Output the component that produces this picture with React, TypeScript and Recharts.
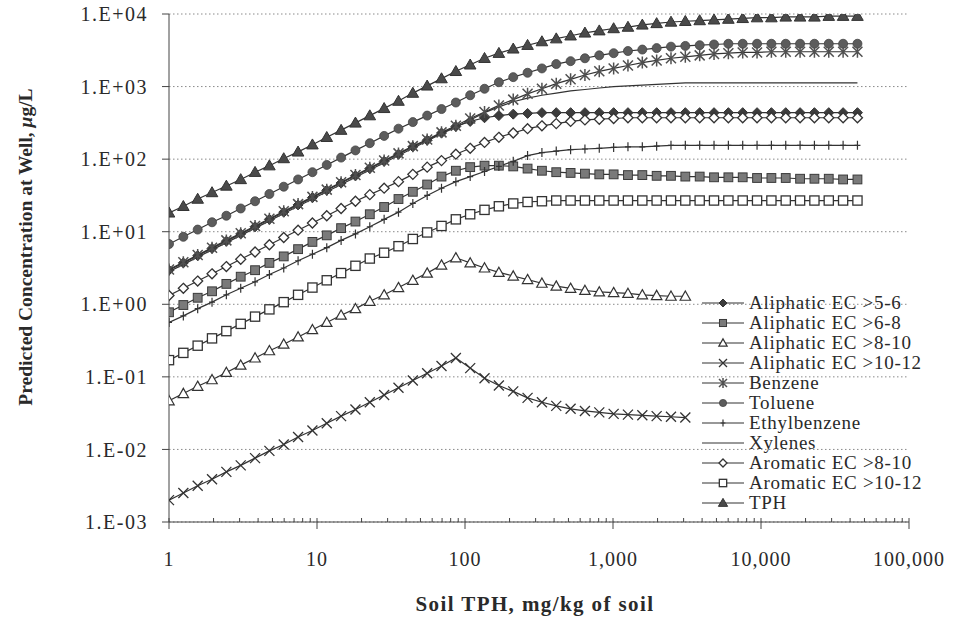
import React from 'react';
import { LineChart, Line, XAxis, YAxis, CartesianGrid, Legend } from 'recharts';

const SERIF = '"Liberation Serif", "Times New Roman", serif';
const INK = '#333';

// soil TPH (mg/kg) at each model step
const SOIL_TPH = [
  1, 1.25, 1.5625, 1.953, 2.441, 3.052, 3.815, 4.768, 5.96, 7.451,
  9.313, 11.64, 14.55, 18.19, 22.74, 28.42, 35.53, 44.41, 55.51, 69.39,
  86.74, 108.4, 135.5, 169.4, 211.8, 264.7, 330.9, 413.6, 517, 646.2,
  807.8, 1010, 1262, 1578, 1972, 2465, 3081, 3852, 4815, 6019,
  7523, 9404, 11755, 14694, 18367, 22959, 28699, 35873, 44842,
];

const ALI_5_6 = [
  2.95, 3.72, 4.68, 5.89, 7.41, 9.33, 11.7, 14.8, 18.6, 23.4,
  29.5, 37.2, 46.8, 58.9, 74.1, 93.3, 117, 148, 182, 229,
  282, 331, 372, 398, 417, 427, 437, 437, 437, 437,
  437, 437, 437, 437, 437, 437, 437, 437, 437, 437,
  437, 437, 437, 437, 437, 437, 437, 437, 437,
];
const ALI_6_8 = [
  0.776, 0.977, 1.23, 1.51, 1.91, 2.4, 2.95, 3.72, 4.57, 5.75,
  7.24, 8.91, 11.2, 13.8, 17.4, 21.9, 28.2, 35.5, 44.7, 57.5,
  69.2, 77.6, 81.3, 81.3, 79.4, 74.1, 69.2, 66.1, 64.6, 63.1,
  61.7, 61.7, 60.3, 60.3, 58.9, 58.9, 57.5, 57.5, 56.2, 56.2,
  56.2, 55.0, 55.0, 55.0, 53.7, 53.7, 53.7, 52.5, 52.5,
];
const ALI_8_10 = [
  0.0468, 0.0589, 0.0741, 0.0912, 0.115, 0.145, 0.182, 0.229, 0.282, 0.355,
  0.447, 0.562, 0.708, 0.871, 1.1, 1.35, 1.7, 2.14, 2.69, 3.47,
  4.37, 3.72, 3.16, 2.75, 2.45, 2.19, 1.95, 1.78, 1.66, 1.55,
  1.48, 1.45, 1.41, 1.35, 1.32, 1.29, 1.29,
];
const ALI_10_12 = [
  0.002, 0.00251, 0.00316, 0.00389, 0.0049, 0.00603, 0.00759, 0.00955, 0.0117, 0.0148,
  0.0182, 0.0229, 0.0288, 0.0355, 0.0447, 0.0562, 0.0708, 0.0891, 0.112, 0.141,
  0.182, 0.132, 0.0955, 0.0759, 0.0631, 0.0513, 0.0447, 0.0398, 0.0363, 0.0339,
  0.0324, 0.0309, 0.0302, 0.0295, 0.0288, 0.0282, 0.0275,
];
const BENZENE = [
  3.02, 3.8, 4.79, 6.03, 7.59, 9.55, 12.0, 15.1, 19.1, 24.0,
  30.2, 38.0, 47.9, 60.3, 75.9, 95.5, 120, 151, 186, 234,
  288, 363, 447, 550, 661, 794, 933, 1096, 1259, 1445,
  1622, 1778, 1950, 2138, 2291, 2455, 2570, 2692, 2818, 2884,
  2951, 2951, 3020, 3020, 3020, 3020, 3020, 3020, 3020,
];
const TOLUENE = [
  6.76, 8.51, 10.7, 13.5, 16.6, 20.9, 26.3, 33.1, 41.7, 52.5,
  66.1, 83.2, 105, 132, 166, 209, 263, 324, 398, 490,
  603, 759, 933, 1148, 1349, 1549, 1778, 2042, 2239, 2455,
  2692, 2884, 3090, 3236, 3388, 3548, 3631, 3715, 3802, 3890,
  3890, 3890, 3890, 3890, 3890, 3890, 3890, 3890, 3890,
];
const ETHYLBENZENE = [
  0.562, 0.692, 0.871, 1.07, 1.35, 1.66, 2.04, 2.57, 3.16, 3.98,
  4.9, 6.03, 7.59, 9.33, 11.7, 14.8, 18.6, 24.5, 31.6, 39.8,
  49.0, 57.5, 67.6, 79.4, 93.3, 112, 123, 129, 135, 138,
  141, 145, 148, 148, 151, 155, 155, 155, 155, 155,
  155, 155, 155, 155, 155, 155, 155, 155, 155,
];
const XYLENES = [
  2.82, 3.55, 4.47, 5.62, 7.08, 8.91, 11.2, 14.1, 17.8, 22.4,
  28.2, 35.5, 44.7, 56.2, 70.8, 89.1, 112, 141, 178, 224,
  275, 347, 437, 525, 617, 692, 759, 813, 871, 912,
  955, 1000, 1023, 1047, 1072, 1096, 1122, 1122, 1122, 1122,
  1122, 1122, 1122, 1122, 1122, 1122, 1122, 1122, 1122,
];
const AROM_8_10 = [
  1.32, 1.66, 2.09, 2.63, 3.31, 4.17, 5.25, 6.61, 8.32, 10.5,
  13.2, 16.6, 20.9, 26.3, 32.4, 39.8, 49.0, 61.7, 77.6, 95.5,
  117, 141, 170, 200, 229, 263, 288, 309, 331, 347,
  355, 363, 372, 372, 372, 372, 372, 372, 372, 372,
  372, 372, 372, 372, 372, 372, 372, 372, 372,
];
const AROM_10_12 = [
  0.17, 0.214, 0.269, 0.339, 0.427, 0.537, 0.676, 0.851, 1.07, 1.35,
  1.7, 2.14, 2.69, 3.39, 4.27, 5.13, 6.31, 7.94, 9.77, 12.0,
  14.8, 17.4, 20.0, 22.4, 24.5, 25.7, 26.3, 26.9, 26.9, 26.9,
  26.9, 26.9, 26.9, 26.9, 26.9, 26.9, 26.9, 26.9, 26.9, 26.9,
  26.9, 26.9, 26.9, 26.9, 26.9, 26.9, 26.9, 26.9, 26.9,
];
const TPH = [
  18.2, 22.4, 28.2, 34.7, 42.7, 52.5, 66.1, 81.3, 102, 126,
  158, 200, 251, 316, 398, 501, 631, 813, 1023, 1288,
  1622, 1995, 2455, 2884, 3311, 3715, 4169, 4571, 5012, 5495,
  5888, 6310, 6607, 7079, 7413, 7762, 7943, 8128, 8318, 8511,
  8710, 8913, 8913, 9120, 9120, 9120, 9333, 9333, 9333,
];

const X_MAJOR = [1, 10, 100, 1000, 10000, 100000];
const X_MINOR = [
  2, 3, 4, 5, 6, 7, 8, 9,
  20, 30, 40, 50, 60, 70, 80, 90,
  200, 300, 400, 500, 600, 700, 800, 900,
  2000, 3000, 4000, 5000, 6000, 7000, 8000, 9000,
  20000, 30000, 40000, 50000, 60000, 70000, 80000, 90000,
];
const Y_TICKS = [0.001, 0.01, 0.1, 1, 10, 100, 1000, 10000];

type MarkerKind =
  | 'diamondFilled' | 'squareGray' | 'triangleOpen' | 'cross' | 'asterisk'
  | 'circle' | 'plus' | 'none' | 'diamondOpen' | 'squareOpen' | 'triangleFilled';

const SERIES: { key: string; name: string; values: number[]; marker: MarkerKind }[] = [
  { key: 'ali56', name: 'Aliphatic EC >5-6', values: ALI_5_6, marker: 'diamondFilled' },
  { key: 'ali68', name: 'Aliphatic EC >6-8', values: ALI_6_8, marker: 'squareGray' },
  { key: 'ali810', name: 'Aliphatic EC >8-10', values: ALI_8_10, marker: 'triangleOpen' },
  { key: 'ali1012', name: 'Aliphatic EC >10-12', values: ALI_10_12, marker: 'cross' },
  { key: 'benzene', name: 'Benzene', values: BENZENE, marker: 'asterisk' },
  { key: 'toluene', name: 'Toluene', values: TOLUENE, marker: 'circle' },
  { key: 'ethyl', name: 'Ethylbenzene', values: ETHYLBENZENE, marker: 'plus' },
  { key: 'xylenes', name: 'Xylenes', values: XYLENES, marker: 'none' },
  { key: 'aro810', name: 'Aromatic EC >8-10', values: AROM_8_10, marker: 'diamondOpen' },
  { key: 'aro1012', name: 'Aromatic EC >10-12', values: AROM_10_12, marker: 'squareOpen' },
  { key: 'tph', name: 'TPH', values: TPH, marker: 'triangleFilled' },
];

const chartData = SOIL_TPH.map((x, i) => {
  const row: Record<string, number | undefined> = { x };
  SERIES.forEach((s) => {
    row[s.key] = s.values[i];
  });
  return row;
});

function Marker({ kind, cx, cy, s = 1 }: { kind: MarkerKind; cx: number; cy: number; s?: number }) {
  const r = 5 * s;
  switch (kind) {
    case 'diamondFilled':
      return <path d={`M${cx},${cy - r}L${cx + r},${cy}L${cx},${cy + r}L${cx - r},${cy}Z`} fill="#3c3c3c" stroke={INK} strokeWidth={1} />;
    case 'diamondOpen':
      return <path d={`M${cx},${cy - r}L${cx + r},${cy}L${cx},${cy + r}L${cx - r},${cy}Z`} fill="#fff" stroke={INK} strokeWidth={1.3} />;
    case 'squareGray':
      return <rect x={cx - 4.4 * s} y={cy - 4.4 * s} width={8.8 * s} height={8.8 * s} fill="#7a7a7a" stroke="#3a3a3a" strokeWidth={1} />;
    case 'squareOpen':
      return <rect x={cx - 4.6 * s} y={cy - 4.6 * s} width={9.2 * s} height={9.2 * s} fill="#fff" stroke={INK} strokeWidth={1.3} />;
    case 'triangleOpen':
      return <path d={`M${cx},${cy - 5.2 * s}L${cx + 5.2 * s},${cy + 4 * s}L${cx - 5.2 * s},${cy + 4 * s}Z`} fill="#fff" stroke={INK} strokeWidth={1.2} />;
    case 'triangleFilled':
      return <path d={`M${cx},${cy - 5.8 * s}L${cx + 5.8 * s},${cy + 4.2 * s}L${cx - 5.8 * s},${cy + 4.2 * s}Z`} fill="#4a4a4a" stroke={INK} strokeWidth={1} />;
    case 'circle':
      return <circle cx={cx} cy={cy} r={4.5 * s} fill="#5c5c5c" stroke="#444" strokeWidth={0.8} />;
    case 'cross':
      return (
        <path d={`M${cx - r},${cy - r}L${cx + r},${cy + r}M${cx - r},${cy + r}L${cx + r},${cy - r}`} stroke={INK} strokeWidth={1.3} fill="none" />
      );
    case 'asterisk':
      return (
        <path
          d={`M${cx - r},${cy - r}L${cx + r},${cy + r}M${cx - r},${cy + r}L${cx + r},${cy - r}M${cx},${cy - r - 1}L${cx},${cy + r + 1}`}
          stroke="#505050"
          strokeWidth={1.5}
          fill="none"
        />
      );
    case 'plus':
      return <path d={`M${cx},${cy - 4.5 * s}L${cx},${cy + 4.5 * s}M${cx - 3 * s},${cy}L${cx + 3 * s},${cy}`} stroke={INK} strokeWidth={1.2} fill="none" />;
    default:
      return null;
  }
}

const XTick = ({ x, y, payload }: any) => {
  const v = payload.value as number;
  const major = X_MAJOR.includes(v);
  return (
    <g>
      <line x1={x} x2={x} y1={y - 4} y2={major ? y + 7 : y} stroke="#444" strokeWidth={1} />
      {major && (
        <text x={x} y={y + 44} textAnchor="middle" fill="#2a2a2a" style={{ fontFamily: SERIF, fontSize: 20, letterSpacing: 1 }}>
          {v.toLocaleString('en-US')}
        </text>
      )}
    </g>
  );
};

const formatY = (v: number) => {
  const e = Math.round(Math.log10(v));
  const sign = e < 0 ? '-' : '+';
  return `1.E${sign}${String(Math.abs(e)).padStart(2, '0')}`;
};

const XTitle = ({ viewBox }: any) => {
  const vb = viewBox ?? { x: 169, y: 522, width: 740, height: 98 };
  return (
    <text x={vb.x + vb.width / 2 - 4} y={vb.y + 82} textAnchor="middle" dominantBaseline="central" fill="#2a2a2a" style={{ fontFamily: SERIF, fontSize: 21, fontWeight: 700, letterSpacing: 1.4 }}>
      Soil TPH, mg/kg of soil
    </text>
  );
};

const YTitle = ({ viewBox }: any) => {
  const vb = viewBox ?? { x: 0, y: 14, width: 169, height: 508 };
  const cy = vb.y + vb.height / 2 - 21;
  return (
    <text x={0} y={0} transform={`translate(25, ${cy}) rotate(-90)`} textAnchor="middle" dominantBaseline="central" fill="#2a2a2a" style={{ fontFamily: SERIF, fontSize: 19.5, fontWeight: 700 }}>
      Predicted Concentration at Well, <tspan fontStyle="italic">μ</tspan>g/L
    </text>
  );
};

const renderLegend = () => (
  <div style={{ fontFamily: SERIF, fontSize: 19, color: '#2a2a2a' }}>
    {SERIES.map((s) => (
      <div key={s.key} style={{ display: 'flex', alignItems: 'center', height: 20, whiteSpace: 'nowrap' }}>
        <svg width={44} height={20} style={{ flex: 'none' }}>
          <line x1={1} y1={10} x2={43} y2={10} stroke={INK} strokeWidth={1.2} />
          <Marker kind={s.marker} cx={22} cy={10} s={0.8} />
        </svg>
        <span style={{ marginLeft: 4, letterSpacing: 0.7 }}>{s.name}</span>
      </div>
    ))}
  </div>
);

export default function App() {
  return (
    <div style={{ position: 'absolute', left: 0, top: 0, width: 953, height: 620, background: '#fff' }}>
      <LineChart width={953} height={620} data={chartData} margin={{ top: 14, right: 44, bottom: 0, left: 0 }}>
        <CartesianGrid vertical={false} stroke="#8a8a8a" strokeDasharray="1.5 2.5" />
        <XAxis
          dataKey="x"
          type="number"
          scale="log"
          domain={[1, 100000]}
          allowDataOverflow
          ticks={[...X_MAJOR, ...X_MINOR].sort((a, b) => a - b)}
          interval={0}
          tick={<XTick />}
          tickLine={false}
          tickSize={0}
          tickMargin={0}
          axisLine={{ stroke: '#444', strokeWidth: 1 }}
          height={98}
          label={<XTitle />}
        />
        <YAxis
          type="number"
          scale="log"
          domain={[0.001, 10000]}
          allowDataOverflow
          ticks={Y_TICKS}
          interval={0}
          tickFormatter={formatY}
          tick={{ fontSize: 20, fill: '#2a2a2a', fontFamily: SERIF, letterSpacing: 1.5 }}
          tickLine={{ stroke: '#444' }}
          tickSize={7}
          tickMargin={14}
          axisLine={{ stroke: '#444', strokeWidth: 1 }}
          width={169}
          label={<YTitle />}
        />
        <Legend
          layout="vertical"
          align="center"
          verticalAlign="middle"
          content={renderLegend}
          wrapperStyle={{ left: 701, top: 293, width: 245, right: 'auto', bottom: 'auto' }}
        />
        {SERIES.map((s) => (
          <Line
            key={s.key}
            dataKey={s.key}
            name={s.name}
            type="linear"
            stroke={INK}
            strokeWidth={1.2}
            isAnimationActive={false}
            activeDot={false}
            dot={
              s.marker === 'none'
                ? false
                : (p: any) =>
                    p.cy == null || p.cx == null ? (
                      <g key={`${s.key}-${p.index}`} />
                    ) : (
                      <g key={`${s.key}-${p.index}`}>
                        <Marker kind={s.marker} cx={p.cx} cy={p.cy} />
                      </g>
                    )
            }
          />
        ))}
      </LineChart>
    </div>
  );
}
